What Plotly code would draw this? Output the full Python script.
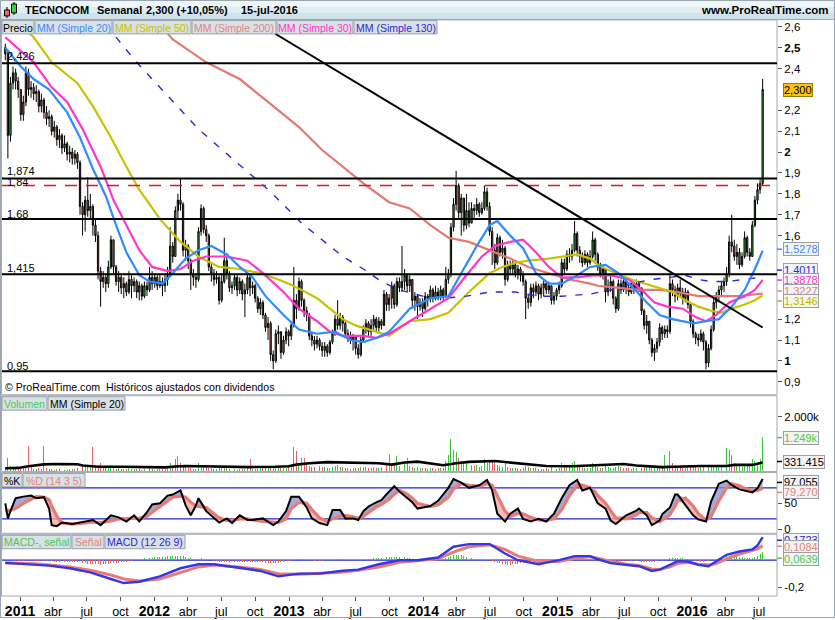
import plotly.graph_objects as go
import pandas as pd

W, H = 835, 620
FONT = "Liberation Sans, Arial, sans-serif"
NARROW = "Liberation Sans Narrow, Liberation Sans, Arial, sans-serif"

# ---------------- data ----------------
first_week = "2010-11-22"
first_open = 2.50
close = [2.47,2.08,2.33,2.38,2.34,2.30,2.18,2.24,2.38,2.30,
2.31,2.28,2.29,2.22,2.25,2.19,2.16,2.17,2.10,2.12,
2.06,2.08,2.02,2.04,1.99,2.00,1.97,1.99,1.95,1.74,
1.70,1.77,1.72,1.74,1.65,1.60,1.43,1.38,1.40,1.37,
1.45,1.58,1.45,1.38,1.40,1.35,1.37,1.33,1.39,1.36,
1.38,1.33,1.36,1.31,1.36,1.34,1.40,1.37,1.40,1.36,
1.38,1.36,1.39,1.41,1.55,1.50,1.72,1.77,1.75,1.53,
1.55,1.48,1.42,1.40,1.39,1.62,1.73,1.63,1.60,1.45,
1.42,1.39,1.40,1.29,1.38,1.48,1.42,1.35,1.36,1.40,
1.34,1.38,1.32,1.34,1.40,1.35,1.36,1.30,1.25,1.28,
1.22,1.16,1.18,1.03,1.00,1.13,1.14,1.04,1.10,1.14,
1.12,1.17,1.29,1.25,1.38,1.29,1.24,1.22,1.12,1.10,
1.08,1.10,1.07,1.05,1.07,1.04,1.09,1.13,1.20,1.17,
1.21,1.18,1.13,1.12,1.10,1.12,1.06,1.03,1.10,1.15,
1.18,1.14,1.17,1.20,1.16,1.19,1.17,1.32,1.27,1.30,
1.36,1.27,1.38,1.35,1.38,1.41,1.36,1.39,1.29,1.31,
1.26,1.28,1.25,1.31,1.30,1.34,1.30,1.33,1.31,1.34,
1.31,1.39,1.42,1.64,1.75,1.84,1.71,1.78,1.65,1.72,
1.66,1.73,1.72,1.75,1.71,1.73,1.81,1.74,1.62,1.53,
1.47,1.59,1.52,1.54,1.39,1.46,1.44,1.46,1.42,1.44,
1.41,1.38,1.30,1.28,1.35,1.33,1.36,1.32,1.35,1.37,
1.34,1.36,1.29,1.31,1.34,1.36,1.47,1.44,1.51,1.50,
1.53,1.61,1.53,1.50,1.47,1.51,1.47,1.50,1.58,1.51,
1.45,1.42,1.44,1.33,1.36,1.38,1.30,1.25,1.37,1.34,
1.38,1.35,1.33,1.37,1.34,1.37,1.35,1.24,1.17,1.19,
1.10,1.04,1.06,1.09,1.16,1.13,1.15,1.14,1.37,1.34,
1.31,1.35,1.33,1.30,1.33,1.27,1.19,1.13,1.11,1.10,
1.13,1.09,0.99,1.06,1.15,1.28,1.31,1.34,1.36,1.38,
1.42,1.57,1.55,1.50,1.52,1.46,1.50,1.59,1.52,1.50,
1.65,1.77,1.82,1.85,2.30]
high = [2.52,2.49,2.36,2.41,2.40,2.36,2.30,2.27,2.41,2.40,
2.34,2.33,2.32,2.30,2.28,2.26,2.22,2.20,2.18,2.15,
2.13,2.11,2.09,2.08,2.05,2.03,2.02,2.01,2.00,1.96,
1.76,1.79,1.88,1.80,1.75,1.68,1.62,1.45,1.43,1.42,
1.48,1.60,1.58,1.46,1.43,1.42,1.40,1.38,1.43,1.41,
1.40,1.39,1.38,1.37,1.38,1.38,1.45,1.43,1.42,1.41,
1.41,1.40,1.42,1.45,1.64,1.57,1.74,1.80,1.87,1.76,
1.58,1.56,1.49,1.44,1.42,1.64,1.75,1.74,1.65,1.61,
1.47,1.44,1.43,1.41,1.42,1.59,1.50,1.43,1.38,1.42,
1.41,1.40,1.39,1.37,1.42,1.41,1.38,1.37,1.31,1.30,
1.29,1.23,1.21,1.19,1.05,1.15,1.17,1.14,1.12,1.16,
1.15,1.19,1.45,1.32,1.40,1.39,1.30,1.26,1.23,1.14,
1.12,1.12,1.11,1.09,1.09,1.08,1.10,1.15,1.22,1.29,
1.23,1.22,1.19,1.15,1.14,1.13,1.12,1.08,1.12,1.17,
1.20,1.19,1.20,1.22,1.21,1.21,1.20,1.34,1.33,1.32,
1.38,1.37,1.40,1.40,1.55,1.44,1.42,1.41,1.39,1.33,
1.32,1.30,1.30,1.33,1.32,1.36,1.35,1.36,1.35,1.36,
1.35,1.45,1.44,1.66,1.78,1.91,1.85,1.80,1.78,1.80,
1.76,1.76,1.75,1.78,1.76,1.76,1.84,1.83,1.76,1.64,
1.56,1.61,1.60,1.58,1.55,1.48,1.48,1.48,1.47,1.46,
1.45,1.43,1.39,1.32,1.37,1.37,1.38,1.37,1.37,1.39,
1.38,1.38,1.36,1.33,1.35,1.38,1.49,1.49,1.53,1.54,
1.56,1.67,1.62,1.55,1.52,1.53,1.52,1.53,1.62,1.59,
1.52,1.47,1.46,1.44,1.39,1.41,1.39,1.31,1.39,1.39,
1.40,1.39,1.37,1.39,1.38,1.39,1.38,1.35,1.25,1.22,
1.19,1.11,1.08,1.11,1.18,1.17,1.17,1.17,1.42,1.39,
1.36,1.37,1.39,1.35,1.35,1.34,1.28,1.20,1.14,1.13,
1.15,1.14,1.10,1.08,1.17,1.30,1.33,1.36,1.38,1.40,
1.45,1.60,1.70,1.58,1.56,1.54,1.52,1.62,1.60,1.54,
1.67,1.79,1.85,1.87,2.35]
low = [2.44,1.97,2.05,2.30,2.30,2.26,2.15,2.15,2.22,2.27,
2.26,2.25,2.24,2.19,2.19,2.16,2.13,2.12,2.08,2.07,
2.03,2.02,1.99,2.00,1.96,1.95,1.94,1.94,1.92,1.70,
1.60,1.62,1.69,1.68,1.60,1.57,1.39,1.26,1.35,1.33,
1.35,1.44,1.42,1.36,1.33,1.32,1.30,1.31,1.32,1.30,
1.33,1.30,1.29,1.29,1.30,1.31,1.33,1.34,1.35,1.34,
1.35,1.31,1.33,1.36,1.40,1.47,1.50,1.68,1.72,1.50,
1.48,1.44,1.34,1.36,1.35,1.38,1.60,1.61,1.57,1.43,
1.38,1.36,1.37,1.27,1.28,1.37,1.39,1.33,1.32,1.34,
1.31,1.32,1.29,1.21,1.32,1.31,1.32,1.28,1.23,1.22,
1.20,1.14,1.10,1.00,0.96,0.99,1.08,1.01,1.03,1.08,
1.07,1.10,1.16,1.20,1.24,1.26,1.21,1.19,1.10,1.07,
1.05,1.06,1.05,1.02,1.02,1.02,1.03,1.08,1.12,1.15,
1.15,1.14,1.11,1.09,1.08,1.05,1.03,1.01,1.02,1.09,
1.13,1.12,1.12,1.15,1.14,1.14,1.15,1.17,1.24,1.24,
1.25,1.25,1.26,1.33,1.33,1.34,1.33,1.33,1.25,1.24,
1.20,1.24,1.21,1.24,1.26,1.28,1.28,1.29,1.29,1.29,
1.29,1.30,1.37,1.40,1.62,1.72,1.68,1.60,1.62,1.63,
1.64,1.69,1.68,1.70,1.69,1.70,1.72,1.72,1.60,1.46,
1.44,1.46,1.50,1.49,1.36,1.38,1.41,1.41,1.40,1.39,
1.38,1.36,1.20,1.25,1.26,1.30,1.31,1.29,1.30,1.31,
1.32,1.32,1.27,1.27,1.29,1.32,1.35,1.42,1.43,1.47,
1.48,1.52,1.50,1.47,1.45,1.46,1.45,1.46,1.49,1.48,
1.43,1.40,1.39,1.28,1.31,1.33,1.27,1.23,1.24,1.32,
1.33,1.32,1.31,1.32,1.32,1.33,1.33,1.22,1.15,1.13,
1.08,1.02,1.00,1.04,1.07,1.10,1.11,1.11,1.13,1.31,
1.28,1.29,1.31,1.27,1.28,1.25,1.16,1.11,1.08,1.07,
1.09,1.05,0.96,0.97,1.05,1.14,1.25,1.28,1.31,1.33,
1.36,1.40,1.52,1.48,1.46,1.44,1.45,1.49,1.50,1.48,
1.50,1.64,1.75,1.80,1.84]
volume_k = [150,500,200,120,100,90,130,110,180,930,
150,100,90,120,80,930,110,90,100,70,
80,90,110,70,60,80,100,90,120,300,
200,150,180,120,900,160,250,300,150,120,
200,250,180,100,120,100,90,80,110,90,
80,100,90,70,90,80,110,100,70,80,
90,100,80,120,300,200,450,550,300,250,
150,130,110,100,90,300,250,200,150,120,
110,100,90,130,110,200,120,100,90,80,
70,90,80,100,120,450,100,90,80,110,
120,150,130,200,180,220,150,120,110,130,
150,200,880,760,300,500,500,250,200,180,
150,600,200,180,150,120,140,160,200,250,
180,150,120,140,100,120,130,110,150,180,
160,140,120,150,130,140,160,700,300,650,
250,300,550,200,2070,300,500,200,150,130,
150,120,110,130,100,120,110,100,130,120,
140,400,600,1200,800,700,500,400,300,350,
300,250,200,220,180,200,450,300,400,350,
300,250,200,180,300,150,140,120,130,110,
100,120,200,150,130,120,110,100,90,100,
110,100,150,120,100,130,300,200,250,200,
300,400,250,200,150,130,120,140,300,200,
150,130,120,200,150,130,120,180,200,150,
130,120,110,100,110,120,100,140,200,180,
150,200,180,130,150,120,600,250,730,300,
250,200,150,130,140,150,160,180,150,140,
160,150,200,180,220,200,180,200,190,220,
860,800,600,300,250,200,180,200,250,200,
470,400,300,450,1249]

ma20_wk = [0,6,11,17,24,29,34,39,43,47,52,56,61,65,70,75,80,86,91,96,101,108,114,121,128,134,139,144,149,157,165,172,177,183,188,191,196,201,206,211,216,222,227,233,238,243,249,254,259,263,267,272,277,282,287,291,294]
ma20 = [2.50,2.41,2.35,2.30,2.19,2.07,1.92,1.79,1.65,1.52,1.41,1.38,1.37,1.42,1.49,1.53,1.55,1.51,1.45,1.40,1.31,1.22,1.15,1.13,1.14,1.10,1.09,1.11,1.14,1.25,1.30,1.31,1.42,1.55,1.65,1.67,1.60,1.54,1.42,1.37,1.37,1.41,1.45,1.46,1.42,1.36,1.28,1.22,1.20,1.19,1.18,1.19,1.20,1.26,1.34,1.44,1.5278]
ma30_wk = [0,11,18,24,30,37,42,47,52,57,63,68,73,78,86,94,100,108,114,121,126,131,139,144,149,157,165,172,179,185,190,196,201,206,211,216,222,228,235,242,247,252,257,263,268,272,276,281,287,291,294]
ma30 = [2.55,2.43,2.31,2.24,2.11,1.93,1.77,1.65,1.53,1.45,1.43,1.44,1.48,1.50,1.50,1.48,1.42,1.33,1.25,1.19,1.14,1.12,1.12,1.11,1.13,1.19,1.25,1.30,1.41,1.50,1.55,1.57,1.58,1.52,1.45,1.40,1.40,1.41,1.41,1.39,1.34,1.28,1.26,1.25,1.21,1.19,1.22,1.28,1.31,1.34,1.3878]
ma50_wk = [0,11,18,28,34,41,47,52,60,68,75,83,91,99,106,110,115,121,126,131,136,144,149,157,165,172,180,188,193,198,203,211,216,222,227,230,235,243,251,259,264,269,274,278,282,287,291,294]
ma50 = [2.68,2.55,2.43,2.33,2.22,2.07,1.93,1.82,1.68,1.57,1.50,1.45,1.44,1.42,1.39,1.37,1.34,1.30,1.25,1.20,1.17,1.14,1.12,1.19,1.20,1.23,1.33,1.42,1.45,1.47,1.48,1.49,1.50,1.51,1.49,1.46,1.43,1.39,1.36,1.33,1.29,1.26,1.24,1.23,1.25,1.27,1.29,1.3146]
ma200_wk = [58,65,78,91,101,114,123,134,139,149,157,165,172,180,188,196,203,211,219,227,230,238,246,254,261,269,277,285,294]
ma200 = [2.64,2.54,2.43,2.35,2.25,2.12,2.01,1.90,1.85,1.76,1.73,1.65,1.59,1.57,1.53,1.49,1.45,1.42,1.39,1.37,1.36,1.35,1.34,1.34,1.33,1.31,1.31,1.31,1.3227]
ma130_wk = [39,43,51,63,75,88,103,115,123,131,139,146,153,162,170,179,188,198,207,216,227,235,243,251,258,264,269,274,280,287,294]
ma130 = [2.61,2.55,2.43,2.27,2.11,1.97,1.81,1.66,1.58,1.50,1.44,1.38,1.34,1.31,1.30,1.31,1.33,1.33,1.31,1.31,1.32,1.34,1.37,1.39,1.40,1.41,1.39,1.38,1.38,1.39,1.4011]

trend_wk = [99, 294]
trend_val = [2.61, 1.16]
support_levels = [2.426, 1.874, 1.68, 1.415, 0.95]
support_labels = ["2,426", "1,874", "1,68", "1,415", "0,95"]
dashed_level = 1.84
dashed_label = "1,84"

vol_ma_wk = [0,5,9,15,20,28,30,36,45,55,62,66,70,76,85,95,105,110,113,118,125,135,145,150,155,160,165,170,175,180,190,200,210,220,230,240,245,250,255,260,270,280,283,290,294]
vol_ma = [120,130,190,260,270,265,220,175,170,160,150,180,200,190,170,160,170,190,250,300,340,320,300,250,330,360,300,230,300,350,380,300,200,190,230,270,220,180,160,170,200,200,240,240,331.415]

stoch_wk = [0,1,2,4,7,10,12,15,17,18,20,22,26,32,34,37,41,44,47,50,52,55,57,60,63,65,68,70,72,74,75,78,81,83,86,88,91,94,96,100,104,106,109,111,114,117,119,122,125,127,130,132,135,137,139,141,144,146,149,151,153,156,158,160,165,168,172,174,177,180,184,187,189,191,194,196,199,201,204,207,210,213,216,219,222,224,227,229,230,233,235,237,241,245,246,249,251,254,255,258,260,261,264,267,269,272,274,277,280,282,285,287,290,292,294]
stoch_k = [50,21,35,60,63,65,60,62,40,8,6,13,10,15,18,8,27,23,15,27,15,33,48,50,65,67,75,46,27,46,60,35,21,13,21,12,27,18,18,21,8,15,35,63,63,42,21,12,8,37,37,21,21,18,35,44,52,56,73,83,73,60,52,40,45,55,80,97,90,80,85,95,75,30,15,30,40,20,15,20,15,30,60,85,95,75,80,60,50,40,17,10,27,36,40,27,8,17,29,42,67,67,48,27,19,15,54,88,94,85,77,75,71,79,97.055]
stoch_d = [36,36,37,40,50,58,63,62,57,45,25,12,10,13,14,13,16,20,21,21,21,25,33,44,55,62,64,62,52,45,44,42,30,22,17,17,20,20,18,15,14,13,20,40,52,50,38,22,15,20,25,27,24,21,25,33,43,48,58,68,75,68,60,50,44,47,62,78,88,85,83,88,85,65,35,25,30,30,23,18,17,20,38,65,85,85,80,72,65,50,35,22,20,28,32,32,22,15,18,28,45,55,60,45,30,18,25,55,80,88,84,79,74,75,79.27]

macd_wk = [0,10,17,25,33,41,46,52,60,68,75,81,91,99,106,114,122,130,137,145,153,160,168,174,180,188,194,199,207,215,221,227,230,235,241,246,251,254,258,261,265,269,273,276,280,285,290,292,294]
macd = [-0.02,-0.03,-0.04,-0.06,-0.09,-0.14,-0.17,-0.16,-0.12,-0.06,-0.03,-0.03,-0.06,-0.08,-0.12,-0.10,-0.10,-0.08,-0.07,-0.03,0.0,0.0,0.02,0.10,0.12,0.12,0.05,0.0,-0.03,0.0,0.03,0.03,0.007,-0.022,-0.035,-0.045,-0.08,-0.07,-0.035,-0.007,-0.01,-0.035,-0.045,-0.01,0.04,0.065,0.08,0.11,0.1723]
macd_signal = [-0.02,-0.025,-0.035,-0.05,-0.075,-0.11,-0.14,-0.155,-0.14,-0.09,-0.05,-0.035,-0.05,-0.07,-0.10,-0.105,-0.10,-0.09,-0.075,-0.05,-0.015,-0.005,0.01,0.06,0.10,0.115,0.08,0.03,-0.01,-0.01,0.015,0.025,0.015,-0.01,-0.03,-0.04,-0.065,-0.07,-0.05,-0.025,-0.015,-0.03,-0.035,-0.025,0.01,0.045,0.07,0.085,0.1084]
macd_hist = [0.005,0.003,-0.002,-0.004,-0.006,-0.005,-0.004,-0.003,0.002,0.003,
-0.002,-0.004,-0.005,-0.006,-0.006,-0.007,-0.008,-0.008,-0.009,-0.010,
-0.010,-0.011,-0.012,-0.012,-0.013,-0.013,-0.014,-0.014,-0.015,-0.020,
-0.022,-0.024,-0.025,-0.026,-0.027,-0.028,-0.030,-0.032,-0.030,-0.028,
-0.026,-0.024,-0.022,-0.020,-0.018,-0.016,-0.014,-0.012,-0.008,-0.004,
-0.002,0.002,0.006,0.010,0.013,0.016,0.018,0.020,0.022,0.024,
0.025,0.026,0.027,0.028,0.030,0.030,0.032,0.033,0.032,0.028,
0.024,0.020,0.016,0.012,0.010,0.012,0.014,0.012,0.008,0.004,
0.0,-0.004,-0.008,-0.010,-0.012,-0.012,-0.013,-0.014,-0.014,-0.014,
-0.014,-0.013,-0.012,-0.012,-0.011,-0.012,-0.013,-0.014,-0.015,-0.016,
-0.017,-0.018,-0.019,-0.020,-0.021,-0.020,-0.018,-0.015,-0.012,-0.008,
-0.005,-0.002,0.004,0.006,0.008,0.006,0.004,0.002,0.0,-0.002,
-0.003,-0.004,-0.004,-0.003,-0.002,-0.001,0.0,0.002,0.004,0.006,
0.007,0.006,0.005,0.004,0.003,0.002,0.002,0.003,0.004,0.006,
0.008,0.010,0.012,0.014,0.016,0.018,0.020,0.022,0.024,0.025,
0.026,0.026,0.025,0.024,0.024,0.022,0.018,0.014,0.010,0.006,
0.003,0.001,0.0,0.0,0.001,0.002,0.003,0.004,0.006,0.008,
0.012,0.018,0.025,0.035,0.040,0.042,0.040,0.036,0.030,0.024,
0.020,0.016,0.012,0.010,0.008,0.007,0.006,0.004,0.0,-0.006,
-0.012,-0.018,-0.022,-0.026,-0.030,-0.032,-0.032,-0.030,-0.028,-0.025,
-0.022,-0.020,-0.018,-0.016,-0.014,-0.012,-0.010,-0.008,-0.006,-0.004,
-0.002,0.0,0.002,0.003,0.004,0.006,0.008,0.010,0.012,0.014,
0.015,0.016,0.016,0.015,0.013,0.011,0.009,0.007,0.005,0.002,
-0.002,-0.006,-0.008,-0.010,-0.012,-0.013,-0.013,-0.012,-0.011,-0.010,
-0.009,-0.008,-0.008,-0.007,-0.007,-0.008,-0.009,-0.010,-0.012,-0.013,
-0.014,-0.013,-0.010,-0.006,-0.002,0.002,0.006,0.010,0.015,0.018,
0.020,0.020,0.018,0.014,0.010,0.006,0.002,-0.002,-0.006,-0.008,
-0.010,-0.010,-0.009,-0.006,-0.002,0.004,0.010,0.016,0.022,0.027,
0.032,0.035,0.036,0.034,0.030,0.026,0.022,0.020,0.018,0.017,
0.020,0.025,0.032,0.045,0.0639]

price_ticks = [0.9,1.0,1.1,1.2,1.6,1.7,1.8,1.9,2.0,2.1,2.2,2.4,2.5,2.6]
price_tick_text = ["0,9","<b>1</b>","1,1","1,2","1,6","1,7","1,8","1,9","<b>2</b>","2,1","2,2","2,4","<b>2,5</b>","2,6"]
month_names = {4: "abr", 7: "jul", 10: "oct"}

# ---------------- helpers ----------------
def px(x):
    return x / W

def py(y):
    return 1 - y / H

dates = pd.date_range(first_week, periods=len(close), freq="7D")
def wdates(idx):
    return [dates[i] for i in idx]

opens = [first_open] + close[:-1]
highs = [max(h, o, c) for h, o, c in zip(high, opens, close)]
lows = [min(l, o, c) for l, o, c in zip(low, opens, close)]
vol_colors = ["#39c939" if c >= o else "#e06666" for o, c in zip(opens, close)]

XR = ["2010-11-13", "2016-08-19"]
XD = [px(2), px(777)]

fig = go.Figure()

fig.add_trace(go.Candlestick(
    x=dates, open=opens, high=highs, low=lows, close=close,
    increasing=dict(line=dict(color="#000000", width=1), fillcolor="#3ccf3c"),
    decreasing=dict(line=dict(color="#000000", width=1), fillcolor="#e06a6a"),
    whiskerwidth=0, xaxis="x", yaxis="y", hoverinfo="skip"))

def line(wk, vals, color, width=2, dash=None, xa="x", ya="y", fill=None, fillcolor=None):
    fig.add_trace(go.Scatter(x=wdates(wk), y=vals, mode="lines",
                             line=dict(color=color, width=width, dash=dash), fill=fill, fillcolor=fillcolor,
                             xaxis=xa, yaxis=ya, hoverinfo="skip"))

line(ma200_wk, ma200, "#e3796f", 2.2)
line(ma50_wk, ma50, "#c6c300", 2.2)
line(ma130_wk, ma130, "#2a2ad0", 1.4, dash="7px,9px")
line(ma30_wk, ma30, "#ff36c8", 2.2)
line(ma20_wk, ma20, "#2e8cff", 2.2)

fig.add_trace(go.Bar(x=dates, y=volume_k, marker=dict(color=vol_colors, line=dict(width=0)),
                     width=2.6 * 86400000, xaxis="x2", yaxis="y2", hoverinfo="skip"))
line(vol_ma_wk, vol_ma, "#000000", 2.6, xa="x2", ya="y2")

k_above = [max(k, d) for k, d in zip(stoch_k, stoch_d)]
k_below = [min(k, d) for k, d in zip(stoch_k, stoch_d)]
line(stoch_wk, stoch_d, "rgba(0,0,0,0)", 0, xa="x3", ya="y3")
line(stoch_wk, k_above, "rgba(0,0,0,0)", 0, xa="x3", ya="y3", fill="tonexty", fillcolor="rgba(140,140,200,0.75)")
line(stoch_wk, stoch_d, "rgba(0,0,0,0)", 0, xa="x3", ya="y3")
line(stoch_wk, k_below, "rgba(0,0,0,0)", 0, xa="x3", ya="y3", fill="tonexty", fillcolor="rgba(244,170,170,0.8)")
line(stoch_wk, stoch_d, "#e77b76", 3.2, xa="x3", ya="y3")
line(stoch_wk, stoch_k, "#000000", 2, xa="x3", ya="y3")

hist_colors = ["#39c939" if v >= 0 else "#e06666" for v in macd_hist]
fig.add_trace(go.Bar(x=dates, y=macd_hist, marker=dict(color=hist_colors, line=dict(width=0)),
                     width=2.6 * 86400000, xaxis="x4", yaxis="y4", hoverinfo="skip"))
line(macd_wk, macd_signal, "#e77b76", 3, xa="x4", ya="y4")
line(macd_wk, macd, "#3636e8", 2.4, xa="x4", ya="y4")

# ---------------- shapes ----------------
shapes = []
def rect(x0, y0, x1, y1, fill=None, lc="#a3abb3", lw=1, layer="below"):
    shapes.append(dict(type="rect", xref="paper", yref="paper", x0=px(x0), x1=px(x1),
                       y0=py(y1), y1=py(y0), fillcolor=fill if fill else "rgba(0,0,0,0)",
                       line=dict(color=lc, width=lw), layer=layer))

rect(0, 0, 835, 7, fill="#edf6fa", lc="rgba(0,0,0,0)", lw=0)
rect(0, 7, 835, 13, fill="#e0eef4", lc="rgba(0,0,0,0)", lw=0)
rect(0, 13, 835, 19.5, fill="#d0e2eb", lc="rgba(0,0,0,0)", lw=0)
shapes.append(dict(type="line", xref="paper", yref="paper", x0=0, x1=1, y0=py(19.5), y1=py(19.5),
                   line=dict(color="#9aa5ae", width=1)))
for (a, b) in [(20, 396), (397, 473), (474, 535), (536, 598)]:
    rect(1.5, a, 777, b, layer="above")
rect(0.5, 0.5, 834.5, 619.5, lc="#9aa5ae", layer="above")

shapes.append(dict(type="line", xref="paper", yref="paper", x0=px(7), x1=px(7), y0=py(7), y1=py(18),
                   line=dict(color="#000", width=1)))
rect(4.5, 10, 9.5, 16, fill="#e06a6a", lc="#000", layer="above")
shapes.append(dict(type="line", xref="paper", yref="paper", x0=px(14), x1=px(14), y0=py(2), y1=py(15),
                   line=dict(color="#000", width=1)))
rect(11.5, 4, 16.5, 13, fill="#3ccf3c", lc="#000", layer="above")

for lv in support_levels:
    shapes.append(dict(type="line", xref="paper", yref="y", x0=px(2), x1=px(777), y0=lv, y1=lv,
                       line=dict(color="#000000", width=2), layer="above"))
shapes.append(dict(type="line", xref="paper", yref="y", x0=px(2), x1=px(777), y0=dashed_level,
                   y1=dashed_level, line=dict(color="#ee1111", width=1.3, dash="12px,9px"), layer="above"))
shapes.append(dict(type="line", xref="x", yref="y", x0=dates[trend_wk[0]], x1=dates[trend_wk[1]],
                   y0=trend_val[0], y1=trend_val[1], line=dict(color="#000000", width=2), layer="above"))
for lv in [80, 20]:
    shapes.append(dict(type="line", xref="paper", yref="y3", x0=px(2), x1=px(777), y0=lv, y1=lv,
                       line=dict(color="#2323d0", width=1.2), layer="below"))
shapes.append(dict(type="line", xref="paper", yref="y4", x0=px(2), x1=px(777), y0=0, y1=0,
                   line=dict(color="#2323d0", width=1.2), layer="below"))

for yv, col in [(250, "#3a8cff"), (271, "#2a2ad0"), (281, "#ff36c8"), (292, "#e3847b"), (302, "#b8b600"),
                (439, "#4cc94c"), (463, "#000000"), (484, "#000000"), (494, "#e3847b"),
                (542, "#2a2ad0"), (548, "#e3847b"), (560, "#4cc94c")]:
    shapes.append(dict(type="line", xref="paper", yref="paper", x0=px(777), x1=px(782), y0=py(yv), y1=py(yv),
                       line=dict(color=col, width=1.5), layer="above"))

# ---------------- annotations ----------------
ann = []
def txt(x, y, s, color="#000000", size=11.5, anchor="left", family=FONT, bg=None, border=None):
    d = dict(xref="paper", yref="paper", x=px(x), y=py(y), text=s, showarrow=False,
             xanchor=anchor, yanchor="middle", font=dict(color=color, size=size, family=family))
    if bg:
        d.update(bgcolor=bg, bordercolor=border or "#9aa0a6", borderwidth=1, borderpad=0)
    ann.append(d)

def legend_box(x0, x1, y0, y1, label, color):
    rect(x0, y0, x1, y1, fill="#d9e0e6", lc="#98a2ab", layer="above")
    txt((x0 + x1) / 2, (y0 + y1) / 2 + 0.5, label, color=color, size=10.5, anchor="center")

txt(23, 10, "<b>TECNOCOM</b>", size=11)
txt(95, 10, "<b>Semanal</b>", size=11)
txt(144, 10, "<b>2,300 (+10,05%)</b>", size=11)
txt(239, 10, "<b>15-jul-2016</b>", size=11)
txt(831, 10, "<b>www.ProRealTime.com</b>", size=11.5, anchor="right")

for x0, x1, lab, col in [(2, 34, "Precio", "#000000"), (35, 112, "MM (Simple 20)", "#3a8cff"),
                         (113, 191, "MM (Simple 50)", "#c6c300"), (192, 276, "MM (Simple 200)", "#e3847b"),
                         (277, 353, "MM (Simple 30)", "#ff36c8"), (354, 437, "MM (Simple 130)", "#2a2ad0")]:
    legend_box(x0, x1, 20.5, 34, lab, col)
for x0, x1, lab, col in [(2, 47, "Volumen", "#4cc94c"), (48, 125, "MM (Simple 20)", "#000000")]:
    legend_box(x0, x1, 398, 411.5, lab, col)
for x0, x1, lab, col in [(2, 22, "%K", "#000000"), (23, 85, "%D (14 3 5)", "#e3847b")]:
    legend_box(x0, x1, 475, 488.5, lab, col)
for x0, x1, lab, col in [(2, 71, "MACD-, señal", "#4cc94c"), (72, 104, "Señal", "#e3847b"),
                         (105, 185, "MACD (12 26 9)", "#2a2ad0")]:
    legend_box(x0, x1, 537, 550.5, lab, col)

for lv_y, lab in [(56, support_labels[0]), (172, support_labels[1]), (215, support_labels[2]),
                  (269, support_labels[3]), (367, support_labels[4])]:
    txt(5, lv_y, lab, size=11)
txt(5, 183, dashed_label, size=11)

txt(3, 388, "© ProRealTime.com  Históricos ajustados con dividendos", size=10.6)

txt(783, 90, "2,300", size=11, bg="#ffc20e", border="#a07800")
txt(783, 250, "1,5278", size=11, color="#3a8cff", bg="#f3f3f3")
txt(783, 271, "1,4011", size=11, color="#2a2ad0", bg="#f3f3f3")
txt(783, 281, "1,3878", size=11, color="#ff36c8", bg="#f3f3f3")
txt(783, 292, "1,3227", size=11, color="#e3847b", bg="#f3f3f3")
txt(783, 302, "1,3146", size=11, color="#b8b600", bg="#f6f6ee")
txt(783, 439, "1.249k", size=11, color="#4cc94c", bg="#f3f3f3")
txt(783, 463, "331.415", size=11, color="#000000", bg="#f3f3f3")
txt(783, 484, "97,055", size=11, color="#000000", bg="#f3f3f3")
txt(783, 494, "79,270", size=11, color="#e3847b", bg="#f3f3f3")
txt(783, 542, "0,1723", size=11, color="#2a2ad0", bg="#f3f3f3")
txt(783, 549, "0,1084", size=11, color="#e3847b", bg="#f3f3f3")
txt(783, 561, "0,0639", size=11, color="#4cc94c", bg="#f3f3f3")

# ---------------- axes ----------------
tickvals, ticktext = [], []
for yr in range(2011, 2017):
    for m in (1, 4, 7, 10):
        d = pd.Timestamp(year=yr, month=m, day=1)
        if d > pd.Timestamp("2016-07-31"):
            continue
        tickvals.append(d)
        ticktext.append(f'<b><span style="font-size:14px">{yr}</span></b>' if m == 1 else month_names[m])

def xax(anchor, show=False):
    return dict(domain=XD, range=XR, type="date", anchor=anchor, showgrid=False, zeroline=False,
                showline=False, showticklabels=show, ticks="outside" if show else "",
                tickvals=tickvals if show else None, ticktext=ticktext if show else None,
                ticklen=4, tickcolor="#555", tickfont=dict(family=NARROW, size=12.5, color="#000"),
                rangeslider=dict(visible=False), fixedrange=True)

def yax(dom, rng, tv, tt, anchor):
    return dict(domain=dom, range=rng, side="right", anchor=anchor, showgrid=False, zeroline=False,
                showline=False, tickvals=tv, ticktext=tt, ticks="outside", ticklen=4, tickcolor="#555",
                tickfont=dict(family=FONT, size=11.5, color="#000"), fixedrange=True)

fig.update_layout(
    width=W, height=H, margin=dict(l=0, r=0, t=0, b=0),
    paper_bgcolor="#ffffff", plot_bgcolor="#ffffff", showlegend=False, hovermode=False,
    bargap=0, barmode="overlay",
    xaxis=xax("y"), xaxis2=xax("y2"), xaxis3=xax("y3"), xaxis4=xax("y4", True),
    yaxis=yax([py(396), py(20)], [0.838, 2.633], price_ticks, price_tick_text, "x"),
    yaxis2=yax([py(473), py(397)], [0, 2764], [2000], ["2.000k"], "x2"),
    yaxis3=yax([py(535), py(474)], [-7.7, 109.6], [0, 50], ["0", "50"], "x3"),
    yaxis4=yax([py(598), py(536)], [-0.267, 0.193], [-0.2], ["-0,2"], "x4"),
    shapes=shapes, annotations=ann,
)

fig.write_html("out.html", config={"displayModeBar": False, "staticPlot": True})
